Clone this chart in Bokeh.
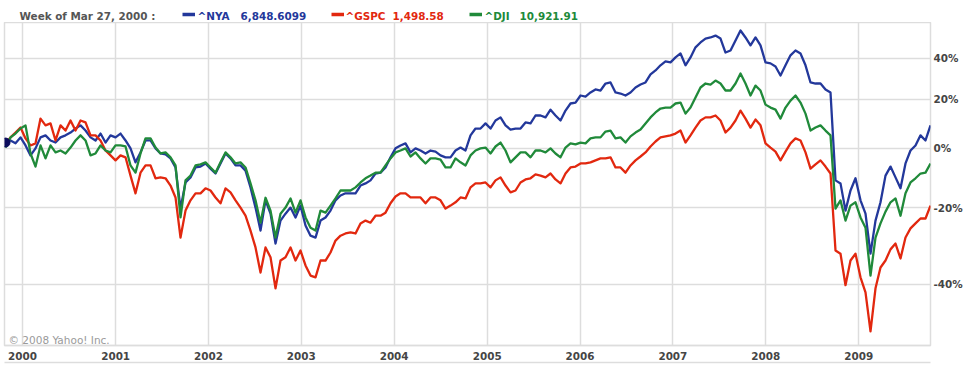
import pandas as pd
from bokeh.plotting import figure
from bokeh.layouts import column
from bokeh.models import (Range1d, FixedTicker, CustomJSTickFormatter, Label,
                          BoxAnnotation, DatetimeAxis, ColumnDataSource)
from bokeh.embed import file_html
from bokeh.resources import INLINE

# ---------------- data (percent change, sampled ~every 20 days) ----------------
start_date = "1999-10-26"
end_date = "2009-10-10"

nya_pct = [2.1, 2.9, 1.8, 4.1, 1.0, -2.7, -0.1, 4.1, 4.9, 2.9,
           2.1, 4.1, 4.9, 6.0, 7.6, 8.9, 6.8, 4.1, 2.9, 5.6,
           2.1, 4.9, 4.1, 5.6, 2.9, -0.1, -5.2, -1.6, 2.9, 2.9,
           -0.1, -2.0, -2.3, -3.8, -7.0, -20.3, -12.1, -10.4, -7.0, -6.7,
           -5.6, -7.4, -9.1, -5.6, -2.0, -3.8, -6.3, -6.3, -8.1, -13.7,
           -20.0, -26.6, -17.8, -21.8, -30.1, -23.8, -21.8, -20.0, -22.9, -19.4,
           -25.2, -28.0, -28.5, -23.8, -22.9, -20.9, -17.8, -16.3, -15.6, -15.6,
           -15.6, -13.1, -12.4, -11.4, -9.1, -8.8, -7.0, -3.4, -0.1, 1.0,
           1.8, -1.6, -0.1, -0.9, -2.0, -0.9, -1.3, -2.7, -3.4, -3.4,
           -0.9, 0.2, -0.9, 4.9, 7.6, 7.6, 9.7, 7.6, 10.9, 12.2,
           8.9, 7.2, 7.6, 7.6, 10.1, 9.7, 13.0, 13.0, 12.2, 15.5,
           13.0, 10.9, 15.1, 18.2, 18.6, 21.8, 21.3, 23.2, 24.6, 24.1,
           27.4, 27.9, 23.2, 22.7, 21.8, 23.2, 25.5, 26.9, 27.9, 31.8,
           33.8, 36.4, 38.4, 37.9, 40.5, 42.6, 36.4, 40.5, 45.9, 48.6,
           50.8, 51.4, 52.5, 50.8, 43.1, 44.2, 49.7, 55.4, 51.4, 47.0,
           51.4, 47.0, 37.9, 37.4, 35.8, 31.3, 36.4, 41.6, 44.2, 42.6,
           36.4, 27.9, 27.4, 27.4, 24.6, 23.2, -11.4, -12.4, -20.9, -14.7,
           -10.7, -17.8, -21.8, -32.7, -23.8, -18.4, -9.8, -6.7, -10.4, -14.0,
           -5.6, -0.9, 1.0, 4.9, 2.9, 8.9]

gspc_pct = [1.8, 4.1, 6.0, 8.0, 3.7, 1.0, 1.8, 11.7, 8.9, 9.7,
            2.9, 8.9, 6.8, 10.9, 6.8, 10.9, 10.1, 4.9, 4.9, 2.9,
            -0.9, -2.7, -4.5, -2.7, -3.4, -9.8, -15.6, -8.8, -6.3, -6.3,
            -10.7, -10.4, -10.7, -13.1, -16.9, -28.5, -20.9, -17.8, -15.6, -15.6,
            -14.0, -14.7, -16.9, -18.7, -14.0, -15.3, -17.8, -20.0, -22.4, -26.6,
            -31.1, -37.3, -31.1, -33.6, -40.9, -34.4, -33.6, -31.1, -34.4, -31.9,
            -35.6, -38.0, -38.4, -34.4, -34.4, -32.4, -29.3, -28.0, -27.4, -27.1,
            -27.4, -24.6, -23.8, -24.4, -22.4, -22.4, -21.5, -18.7, -16.6, -15.6,
            -15.6, -16.9, -16.9, -16.9, -18.7, -16.9, -16.9, -17.8, -20.3, -19.4,
            -18.4, -16.9, -17.2, -13.7, -12.4, -12.4, -12.1, -13.7, -11.4, -10.4,
            -13.1, -15.3, -14.7, -12.1, -11.1, -10.7, -9.4, -9.8, -10.4, -9.1,
            -11.1, -12.4, -9.1, -7.0, -6.7, -5.6, -5.6, -5.2, -4.5, -3.8,
            -3.8, -3.4, -7.0, -7.0, -8.8, -6.3, -4.5, -3.1, -1.6, 0.6,
            2.5, 4.1, 4.5, 4.9, 5.6, 6.8, 2.1, 4.9, 8.0, 10.9,
            12.2, 12.2, 13.0, 10.9, 6.0, 8.0, 10.9, 15.1, 11.7, 8.0,
            11.3, 8.9, 1.8, 0.2, -1.3, -4.5, -1.3, 1.8, 3.7, 2.9,
            -1.6, -7.4, -5.9, -4.5, -6.7, -9.1, -31.9, -32.7, -40.2, -34.4,
            -32.7, -38.4, -41.8, -49.7, -40.9, -36.1, -34.4, -31.6, -30.1, -33.9,
            -28.5, -26.0, -24.6, -23.2, -23.2, -19.4]

dji_pct = [0.2, 4.1, 5.6, 7.6, 8.9, -2.0, -6.7, 1.0, -3.8, 1.0,
           -1.6, -0.9, -2.0, 0.2, 2.9, 4.9, 2.9, -2.7, -2.0, 1.0,
           -0.9, -1.6, 1.0, 1.0, 0.6, -6.3, -8.8, -2.0, 3.7, 3.7,
           0.2, -2.0, -1.6, -3.4, -6.3, -22.9, -11.4, -9.8, -6.3, -5.9,
           -5.2, -7.0, -8.8, -5.2, -1.6, -3.4, -5.6, -5.2, -7.0, -12.4,
           -17.8, -24.4, -17.0, -20.9, -28.5, -21.8, -20.0, -17.2, -21.5, -17.8,
           -22.9, -25.8, -26.6, -20.9, -21.5, -19.4, -17.2, -14.7, -14.7, -14.7,
           -13.7, -12.1, -10.7, -9.8, -8.8, -8.8, -6.3, -3.8, -1.6, -0.9,
           -0.1, -3.1, -1.6, -3.8, -5.6, -3.8, -3.8, -4.2, -7.0, -7.0,
           -3.8, -5.2, -6.3, -2.7, -0.9, -0.1, 0.2, -2.0, 0.6, 2.1,
           -0.9, -5.2, -3.4, -1.6, -1.6, -3.4, -0.9, -0.9, -1.6, -0.1,
           -2.0, -3.4, 0.2, 1.8, 1.4, 2.1, 1.8, 3.7, 4.1, 4.1,
           6.4, 6.8, 3.7, 4.1, 2.1, 4.5, 6.0, 7.2, 9.7, 12.2,
           14.3, 16.0, 16.4, 16.4, 18.2, 18.6, 13.8, 16.4, 20.9, 25.5,
           27.4, 26.9, 28.8, 27.4, 24.1, 24.1, 27.4, 32.3, 27.4, 21.8,
           26.4, 24.1, 17.7, 16.4, 15.5, 11.7, 16.4, 19.5, 21.8, 18.6,
           13.8, 6.8, 8.0, 8.9, 6.8, 4.9, -20.3, -17.8, -23.8, -19.4,
           -18.4, -22.9, -25.8, -38.0, -28.5, -24.6, -21.2, -18.4, -17.2, -22.4,
           -15.6, -12.1, -10.7, -9.1, -8.8, -5.6]

years = list(range(2000, 2010))
pct_ticks = [-40, -20, 0, 20, 40]

title_text = "Week of Mar 27, 2000 :"
series_names = ["^NYA", "^GSPC", "^DJI"]
series_levels = ["6,848.6099", "1,498.58", "10,921.91"]
series_colors = ["#23389b", "#e2280f", "#208a3a"]
copyright_text = "\u00a9 2008 Yahoo! Inc."

FONT = "DejaVu Sans"
GRID = "#dddddd"
W = 975

# ---------------- header strip (title + legend) ----------------
head = figure(width=W, height=22, x_range=Range1d(0, W), y_range=Range1d(0, 22),
              min_border_left=0, min_border_right=0, min_border_top=0, min_border_bottom=0,
              x_axis_location=None, y_axis_location=None,
              output_backend="svg", toolbar_location=None,
              background_fill_color="white", border_fill_color="white",
              outline_line_color=None)
head.grid.visible = False
head.add_layout(Label(x=15, y=7, x_units="screen", y_units="screen", text=title_text,
                      text_font=FONT, text_font_style="bold", text_font_size="10.4px",
                      text_color="#555555", text_baseline="alphabetic"))
rect_x = [178, 327, 465]
name_x = [193, 341, 480]
level_x = [236, 388, 515]
for i in range(3):
    head.add_layout(BoxAnnotation(left=rect_x[i], right=rect_x[i] + 12.5, bottom=6.3, top=9.8,
                                  left_units="screen", right_units="screen",
                                  bottom_units="screen", top_units="screen",
                                  fill_color=series_colors[i], fill_alpha=1.0, line_color=None))
    head.add_layout(Label(x=name_x[i], y=7, x_units="screen", y_units="screen", text=series_names[i],
                          text_font=FONT, text_font_style="bold", text_font_size="10.4px",
                          text_color=series_colors[i], text_baseline="alphabetic"))
    head.add_layout(Label(x=level_x[i], y=7, x_units="screen", y_units="screen", text=series_levels[i],
                          text_font=FONT, text_font_style="bold", text_font_size="10.4px",
                          text_color=series_colors[i], text_baseline="alphabetic"))

# ---------------- main chart ----------------
dates = pd.date_range(start_date, end_date, periods=len(nya_pct))
src = ColumnDataSource(dict(
    date=dates,
    nya=[1 + v / 100 for v in nya_pct],
    gspc=[1 + v / 100 for v in gspc_pct],
    dji=[1 + v / 100 for v in dji_pct],
))

p = figure(x_axis_type="datetime", y_axis_type="log", y_axis_location="right",
           x_range=Range1d(pd.Timestamp("1999-10-22"), pd.Timestamp("2009-10-10")),
           y_range=Range1d(0.4770, 1.6015),
           frame_width=926, frame_height=323,
           min_border_left=4, min_border_right=45, min_border_top=0, min_border_bottom=24,
           output_backend="svg", toolbar_location=None,
           background_fill_color="white", border_fill_color="white",
           outline_line_color=GRID, outline_line_width=1.5)

xt = FixedTicker(ticks=[pd.Timestamp(f"{y}-01-01").value // 10**6 for y in years])
yt = FixedTicker(ticks=[1 + t / 100 for t in pct_ticks])
xa = p.xaxis[0]
ya = p.yaxis[0]
xa.ticker = xt
ya.ticker = yt
p.xgrid[0].ticker = xt
p.ygrid[0].ticker = yt
xa.formatter = CustomJSTickFormatter(code="return String(new Date(tick).getUTCFullYear());")
ya.formatter = CustomJSTickFormatter(code="return Math.round((tick - 1) * 100) + '%';")
for ax in (xa, ya):
    ax.major_tick_line_color = None
    ax.minor_tick_line_color = None
    ax.major_tick_out = 0
    ax.minor_tick_out = 0
    ax.major_label_text_font = FONT
    ax.major_label_text_font_style = "bold"
    ax.major_label_text_font_size = "10.4px"
    ax.major_label_text_color = "#454545"
ya.axis_line_color = None
ya.major_label_standoff = 3
xa.axis_line_color = GRID
xa.axis_line_width = 1.5
xa.major_label_standoff = 6

extra = DatetimeAxis(ticker=FixedTicker(ticks=[]), axis_line_color=GRID, axis_line_width=1.5,
                     major_tick_line_color=None, minor_tick_line_color=None,
                     major_tick_out=0, minor_tick_out=0, major_label_text_font_size="0px")
p.add_layout(extra, "below")

for g in (p.xgrid[0], p.ygrid[0]):
    g.grid_line_color = GRID
    g.grid_line_width = 1.5

p.line("date", "nya", source=src, line_color=series_colors[0], line_width=2.3, line_join="round")
p.line("date", "gspc", source=src, line_color=series_colors[1], line_width=2.3, line_join="round")
p.line("date", "dji", source=src, line_color=series_colors[2], line_width=2.3, line_join="round")
p.scatter([dates[0]], [1 + nya_pct[0] / 100], size=9, color="#0b0b5c")

p.add_layout(Label(x=4, y=6, x_units="screen", y_units="screen", text=copyright_text,
                   text_font=FONT, text_font_size="10.5px", text_color="#9a9a9a",
                   text_baseline="alphabetic"))

layout = column(head, p, spacing=0)
open("out.html", "w").write(file_html(layout, INLINE))
